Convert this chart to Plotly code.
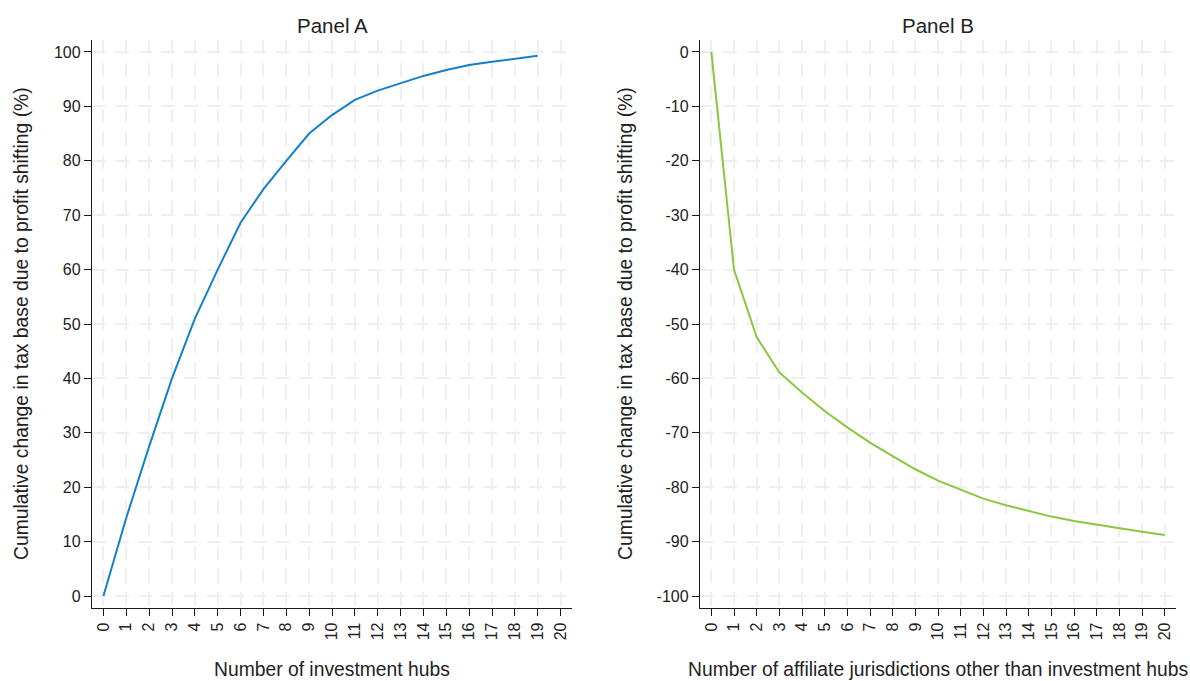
import plotly.graph_objects as go

# Number of jurisdictions on each horizontal axis
hubs = list(range(0, 20))
affiliates = list(range(0, 21))

# Cumulative change in tax base due to profit shifting (%)
panel_a = [0, 14.4, 27.5, 40.0, 51.0, 60.0, 68.6, 74.8, 80.0, 85.0,
           88.4, 91.2, 92.9, 94.2, 95.6, 96.7, 97.6, 98.2, 98.7, 99.3]
panel_b = [0, -40.0, -52.4, -58.9, -62.6, -66.0, -69.0, -71.8, -74.3, -76.7,
           -78.8, -80.4, -82.1, -83.3, -84.4, -85.4, -86.2, -86.9, -87.6, -88.2, -88.8]

x_ticks = list(range(0, 21))
x_ticktext = [str(v) for v in x_ticks]
ya_ticks = list(range(0, 101, 10))
yb_ticks = list(range(-100, 1, 10))

W, H = 1190, 681
FONT = "Liberation Sans, Arial, sans-serif"
GRID = "#efefef"
AXIS = "#1a1a1a"

fig = go.Figure()
fig.add_trace(go.Scatter(x=hubs, y=panel_a, mode="lines",
                         line=dict(color="#1480c8", width=2),
                         xaxis="x", yaxis="y", showlegend=False))
fig.add_trace(go.Scatter(x=affiliates, y=panel_b, mode="lines",
                         line=dict(color="#8cc63f", width=2),
                         xaxis="x2", yaxis="y2", showlegend=False))

common_x = dict(
    range=[-0.5, 20.5], tickmode="array", tickvals=x_ticks, ticktext=x_ticktext,
    tickangle=-90, ticks="outside", ticklen=7, tickwidth=1.3, tickcolor=AXIS,
    showline=True, linecolor=AXIS, linewidth=1.3,
    showgrid=True, gridcolor=GRID, gridwidth=2, griddash="14px,9px",
    zeroline=False, automargin=False,
    tickfont=dict(family=FONT, size=16, color="#222"),
)
common_y = dict(
    ticks="outside", ticklen=7, tickwidth=1.3, tickcolor=AXIS,
    showline=True, linecolor=AXIS, linewidth=1.3,
    showgrid=True, gridcolor=GRID, gridwidth=2, griddash="14px,9px",
    zeroline=False, automargin=False, tickmode="array",
    tickfont=dict(family=FONT, size=16, color="#222"),
)

fig.update_layout(
    width=W, height=H,
    margin=dict(l=0, r=0, t=40, b=73),
    paper_bgcolor="white", plot_bgcolor="white",
    font=dict(family=FONT, color="#222"),
    xaxis=dict(domain=[92 / W, 572 / W], anchor="y", **common_x),
    xaxis2=dict(domain=[700 / W, 1176 / W], anchor="y2", **common_x),
    yaxis=dict(domain=[0, 1], anchor="x", range=[-2.2, 102.2],
               tickvals=ya_ticks, ticktext=[str(v) for v in ya_ticks], **common_y),
    yaxis2=dict(domain=[0, 1], anchor="x2", range=[-102.2, 2.2],
                tickvals=yb_ticks, ticktext=[str(v) for v in yb_ticks], **common_y),
)

plot_h = H - 40 - 73


def py(pixel_y):
    return (H - 73 - pixel_y) / plot_h


ytitle = "Cumulative change in tax base due to profit shifting (%)"
annotations = [
    dict(text="Panel A", x=332 / W, y=py(25), font=dict(size=20.5)),
    dict(text="Panel B", x=938 / W, y=py(25), font=dict(size=20.5)),
    dict(text="Number of investment hubs", x=332 / W, y=py(669), font=dict(size=19.3)),
    dict(text="Number of affiliate jurisdictions other than investment hubs",
         x=938 / W, y=py(669), font=dict(size=19.3)),
    dict(text=ytitle, x=21 / W, y=0.5, textangle=-90, font=dict(size=19.3)),
    dict(text=ytitle, x=625 / W, y=0.5, textangle=-90, font=dict(size=19.3)),
]
for a in annotations:
    a.update(xref="paper", yref="paper", xanchor="center", yanchor="middle",
             showarrow=False)
    a["font"].update(family=FONT, color="#222")
fig.update_layout(annotations=annotations)

fig.write_html("out.html")
